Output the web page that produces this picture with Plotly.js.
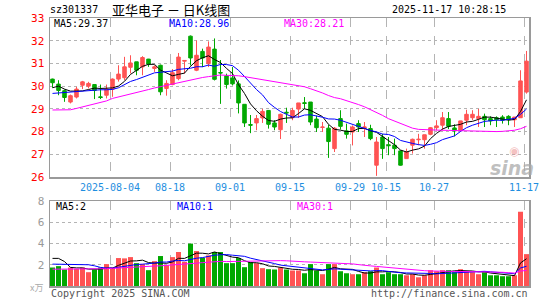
<!DOCTYPE html>
<html>
<head>
<meta charset="utf-8">
<script src="https://cdn.plot.ly/plotly-3.0.1.min.js"></script>
<style>html,body{margin:0;padding:0;background:#fff;}#chart{width:545px;height:300px;}</style>
</head>
<body>
<div id="chart"></div>
<script>
// ---- data ----
const openP  = [30.31,30.09,29.8,29.3,29.52,30.04,30.0,30.07,29.53,29.6,29.87,30.31,30.37,30.83,31.07,30.85,31.19,30.78,30.92,29.9,30.07,30.33,31.1,32.2,30.7,31.53,30.99,31.63,30.6,30.45,30.36,30.1,29.2,28.31,28.38,28.6,28.93,28.38,28.08,28.85,28.61,28.99,29.27,29.3,28.55,28.18,28.15,27.25,28.57,28.03,27.98,28.35,28.17,28.13,26.52,27.76,27.42,27.4,27.15,26.81,27.4,27.64,27.64,27.88,28.17,28.28,28.57,28.16,28.06,28.5,28.61,28.57,28.67,28.57,28.61,28.64,28.67,28.52,28.61,29.74];
const highP  = [30.33,30.26,29.85,29.63,29.97,30.23,30.19,30.07,30.07,30.07,30.34,30.92,31.29,31.36,31.07,31.32,31.2,30.92,30.95,30.26,30.75,31.46,31.15,32.23,32.01,31.65,31.97,32.1,31.15,30.55,30.84,30.25,29.2,28.73,28.73,29.0,28.95,28.5,28.79,29.05,29.05,29.26,29.52,29.3,28.7,28.42,28.3,28.2,28.94,28.35,28.27,28.5,28.42,28.3,27.76,27.9,27.76,27.69,27.17,27.25,27.69,27.9,27.86,28.2,28.5,28.86,28.86,28.32,28.47,28.96,28.94,29.0,28.79,28.67,28.67,28.72,28.72,28.64,30.7,31.55];
const lowP   = [29.93,29.6,29.31,29.24,29.46,29.87,29.9,29.43,29.43,29.46,29.53,30.2,30.26,30.56,30.48,30.48,30.85,30.63,29.6,29.58,30.04,30.26,30.55,30.91,30.66,30.84,30.84,30.25,29.22,29.89,30.03,28.8,28.2,27.93,28.06,28.38,28.13,28.06,27.67,28.38,28.5,28.6,29.0,28.28,27.98,27.98,26.84,27.1,28.09,27.69,27.39,27.98,27.76,27.62,26.05,26.8,26.96,26.96,26.5,26.81,27.03,27.4,27.25,27.84,28.06,28.06,28.11,27.79,28.0,28.28,28.5,28.2,28.2,28.28,28.2,28.35,28.28,28.2,28.61,29.67];
const closeP = [30.15,29.81,29.5,29.58,29.87,30.19,30.12,29.81,29.5,29.87,30.31,30.53,30.85,31.02,30.7,31.26,30.97,30.85,29.75,30.12,30.59,31.28,31.13,31.24,31.36,31.24,31.72,30.3,30.58,30.07,30.1,29.26,28.38,28.28,28.57,28.89,28.32,28.2,28.76,28.82,28.93,29.26,29.24,28.42,28.17,28.2,27.56,28.15,28.23,27.88,28.2,28.2,28.2,27.69,27.54,27.25,27.38,27.25,26.52,27.1,27.66,27.66,27.86,28.17,28.25,28.61,28.23,28.03,28.47,28.76,28.76,28.67,28.52,28.47,28.52,28.5,28.52,28.64,30.23,31.1];
// volume in 万 shares
const volume = [1.74,1.87,1.55,1.74,1.61,1.74,1.3,1.55,1.74,2.06,1.74,2.63,2.6,2.72,2.15,2.06,1.49,2.34,2.82,1.96,2.72,3.2,2.28,3.99,3.29,2.66,2.88,3.2,3.2,2.15,2.15,2.63,1.77,2.25,2.15,1.68,1.58,1.55,1.74,1.55,1.46,1.46,1.2,2.06,1.46,1.11,2.06,2.06,1.39,1.2,1.11,1.11,1.3,1.39,1.74,1.11,1.3,1.11,1.11,1.01,1.11,0.82,1.01,1.49,1.39,1.49,1.49,1.3,1.58,1.39,1.3,1.11,1.3,1.01,1.01,0.92,0.92,1.01,6.99,3.0];
// moving-average values before enough history is in view
const ma5Head  = [29.93,30.0,29.87,29.78];
const ma10Head = [29.68,29.7,29.73,29.76,29.78,29.8,29.82,29.84,29.84];
const ma30Head = [28.95,28.95,28.95,28.96,29.02,29.08,29.15,29.22,29.28,29.35,29.46,29.52,29.58,29.65,29.72,29.78,29.85,29.92,29.98,30.05,30.08,30.14,30.2,30.28,30.33,30.38,30.42,30.47,30.49];
const vma5Head  = [2.6,2.6,2.3,1.75];
const vma10Head = [2.06,2.06,2.06,2.06,2.06,2.06,2.0,1.9,1.75];
const vma30Head = [1.58,1.58,1.58,1.58,1.58,1.58,1.58,1.58,1.6,1.63,1.66,1.7,1.73,1.76,1.79,1.82,1.85,1.88,1.9,1.93,1.96,2.0,2.05,2.1,2.15,2.2,2.25,2.28,2.32];
// date ticks
const tickIndex  = [10,20,30,40,50,56,64,79];
const tickLabels = ['2025-08-04','08-18','09-01','09-15','09-29','10-15','10-27','11-17'];
const priceTicks = [26,27,28,29,30,31,32,33];
const volTicks   = [2,4,6,8];
const stockCode = 'sz301337';
const chartTitle = '亚华电子 － 日K线图';
const stamp = '2025-11-17 10:28:15';
const maLabels  = ['MA5:29.37','MA10:28.96','MA30:28.21'];
const vmaLabels = ['MA5:2','MA10:1','MA30:1'];

// ---- build ----
const idx = closeP.map((_, i) => i);
function ma(arr, n, head) {
  return arr.map((v, i) => {
    if (i < n - 1) return head[i];
    let s = 0; for (let k = i - n + 1; k <= i; k++) s += arr[k];
    return s / n;
  });
}
const RED = '#ff5353', GREEN = '#00a800';
const volColors = closeP.map((c, i) => c >= openP[i] ? RED : GREEN);
const off = 0.4167; // slot left edge relative to candle centre
const tickPos = tickIndex.map(i => i - off);
const mono = 'DejaVu Sans Mono, Liberation Mono, monospace';

const traces = [
  {type:'candlestick', x: idx, open: openP, high: highP, low: lowP, close: closeP,
   xaxis:'x', yaxis:'y', whiskerwidth: 0,
   increasing:{line:{color:RED,width:1}, fillcolor:RED},
   decreasing:{line:{color:GREEN,width:1}, fillcolor:GREEN},
   hoverinfo:'skip', showlegend:false},
  {type:'scatter', mode:'lines', x: idx, y: ma(closeP,5,ma5Head), line:{color:'#000000',width:1}, xaxis:'x', yaxis:'y', hoverinfo:'skip', showlegend:false},
  {type:'scatter', mode:'lines', x: idx, y: ma(closeP,10,ma10Head), line:{color:'#0000ff',width:1}, xaxis:'x', yaxis:'y', hoverinfo:'skip', showlegend:false},
  {type:'scatter', mode:'lines', x: idx, y: ma(closeP,30,ma30Head), line:{color:'#ff00ff',width:1}, xaxis:'x', yaxis:'y', hoverinfo:'skip', showlegend:false},
  {type:'bar', x: idx, y: volume, marker:{color: volColors, line:{width:0}}, width: 0.84, xaxis:'x2', yaxis:'y2', hoverinfo:'skip', showlegend:false},
  {type:'scatter', mode:'lines', x: idx, y: ma(volume,5,vma5Head), line:{color:'#000000',width:1}, xaxis:'x2', yaxis:'y2', hoverinfo:'skip', showlegend:false},
  {type:'scatter', mode:'lines', x: idx, y: ma(volume,10,vma10Head), line:{color:'#0000ff',width:1}, xaxis:'x2', yaxis:'y2', hoverinfo:'skip', showlegend:false},
  {type:'scatter', mode:'lines', x: idx, y: ma(volume,30,vma30Head), line:{color:'#ff00ff',width:1}, xaxis:'x2', yaxis:'y2', hoverinfo:'skip', showlegend:false}
];

// pixel helpers: plot area x 50..529, y 18..286
const PX = px => (px - 50) / 479;
const PY = py => (286 - py) / 268;
function txt(text, px, py, color, xanchor, size, family, extra) {
  return Object.assign({text, x: PX(px), y: PY(py), xref:'paper', yref:'paper', showarrow:false,
    xanchor, yanchor:'middle', font:{color, size, family}}, extra || {});
}
const annotations = [
  txt(stockCode, 48, 10, '#000', 'left', 10, mono),
  txt(chartTitle, 171, 10, '#000', 'center', 13, 'Noto Sans CJK SC'),
  txt(stamp, 508, 10, '#000', 'right', 10, mono),
  txt(maLabels[0], 52, 24, '#000', 'left', 10, mono),
  txt(maLabels[1], 167, 24, '#0000ff', 'left', 10, mono),
  txt(maLabels[2], 282, 24, '#ff00ff', 'left', 10, mono),
  txt(vmaLabels[0], 54, 206, '#000', 'left', 10, mono),
  txt(vmaLabels[1], 175, 206, '#0000ff', 'left', 10, mono),
  txt(vmaLabels[2], 295, 206, '#ff00ff', 'left', 10, mono),
  txt('Copyright 2025 SINA.COM', 49, 293, '#555', 'left', 10, mono),
  txt('http://finance.sina.com.cn', 530, 293, '#555', 'right', 10, mono),
  txt('x万', 45, 287, '#aaa', 'right', 9, 'Noto Sans CJK SC'),
  txt('sina', 512, 168, 'rgba(170,170,170,0.75)', 'center', 19, 'DejaVu Sans', {font:{color:'rgba(170,170,170,0.75)', size:19, family:'DejaVu Sans', weight:'bold', style:'italic'}}),
  txt('◉', 514, 151, 'rgba(235,140,140,0.55)', 'center', 12, 'DejaVu Sans')
];

const gridC = '#b4b4b4', boxC = '#9a9a9a';
const layout = {
  width: 545, height: 300,
  margin: {l:50, r:16, t:18, b:14, pad:0},
  paper_bgcolor:'#fff', plot_bgcolor:'#fff',
  boxgap: 0.16,
  showlegend:false,
  xaxis: {domain:[0,1], anchor:'y', range:[-off, -off + 479/6], rangeslider:{visible:false},
    tickmode:'array', tickvals: tickPos, ticktext: tickLabels, ticks:'',
    tickfont:{color:'#1e8ee0', size:10, family:mono},
    showgrid:true, gridcolor:gridC, griddash:'dash', gridwidth:1,
    showline:true, mirror:true, linecolor:boxC, linewidth:1.5, zeroline:false, fixedrange:true},
  yaxis: {domain:[PY(177), 1], anchor:'x', range:[26,33], tickmode:'array', tickvals: priceTicks, ticks:'',
    ticklabelstandoff: 2,
    tickfont:{color:'#ff0000', size:11, family:mono},
    showgrid:true, gridcolor:gridC, griddash:'dot', gridwidth:1,
    showline:true, mirror:true, linecolor:boxC, linewidth:1.5, zeroline:false, fixedrange:true},
  xaxis2: {domain:[0,1], anchor:'y2', matches:'x', range:[-off, -off + 479/6],
    tickmode:'array', tickvals: tickPos, showticklabels:false, ticks:'',
    showgrid:true, gridcolor:gridC, griddash:'dash', gridwidth:1,
    showline:true, mirror:true, linecolor:boxC, linewidth:1.5, zeroline:false, fixedrange:true},
  yaxis2: {domain:[0, PY(201)], anchor:'x2', range:[0,8], tickmode:'array', tickvals: volTicks, ticks:'',
    ticklabelstandoff: 2,
    tickfont:{color:'#999', size:11, family:mono},
    showgrid:true, gridcolor:gridC, griddash:'dot', gridwidth:1,
    showline:true, mirror:true, linecolor:boxC, linewidth:1.5, zeroline:false, fixedrange:true},
  annotations
};
Plotly.newPlot('chart', traces, layout, {displayModeBar:false, staticPlot:true});
</script>
</body>
</html>
